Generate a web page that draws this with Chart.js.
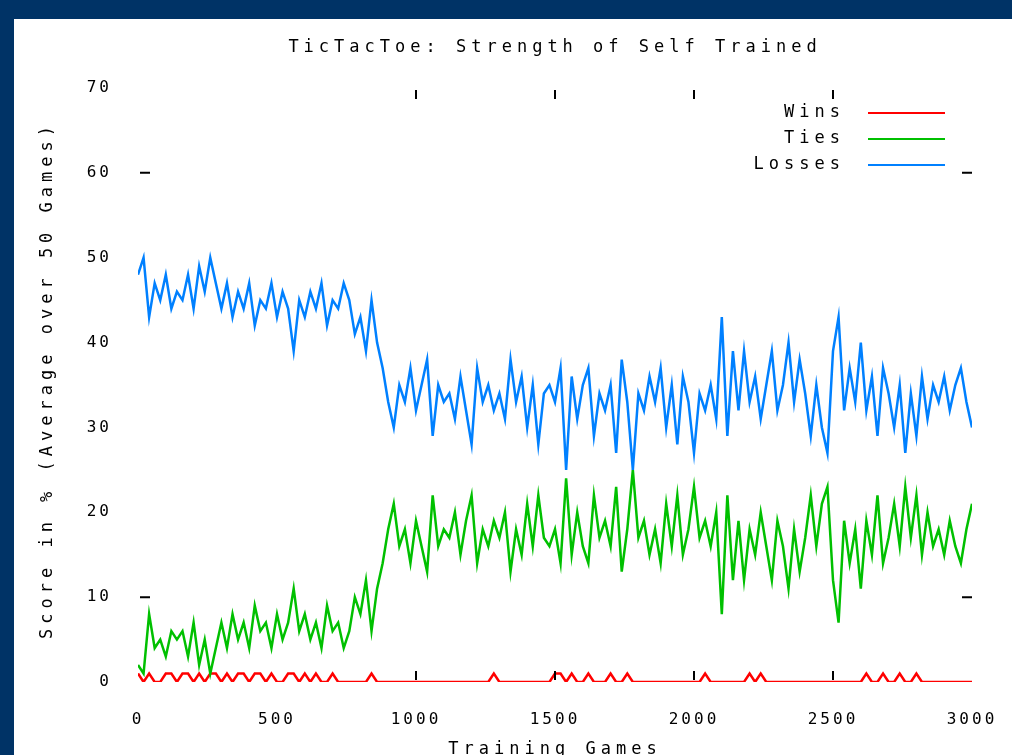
<!DOCTYPE html>
<html>
<head>
<meta charset="utf-8">
<script src="https://cdn.jsdelivr.net/npm/chart.js@4/dist/chart.umd.min.js"></script>
<style>
  html, body { margin: 0; padding: 0; background: #003366; overflow: hidden; }
  #box { position: absolute; left: 14px; top: 19px; width: 998px; height: 736px; background: #fff; }
</style>
</head>
<body>
<div id="box"><canvas id="c"></canvas></div>
<script>
// training games, one point every 20 games
const games = [];
for (let g = 0; g <= 3000; g += 20) games.push(g);

const chartTitle = 'TicTacToe: Strength of Self Trained';
const xTitle = 'Training Games';
const yTitle = 'Score in % (Average over 50 Games)';

const wins = [
  1,0,1,0,0,1,1,0,1,1, 0,1,0,1,1,0,1,0,1,1, 0,1,1,0,1,0,0,1,1,0, 1,0,1,0,0,1,0,0,0,0,
  0,0,1,0,0,0,0,0,0,0, 0,0,0,0,0,0,0,0,0,0, 0,0,0,0,1,0,0,0,0,0, 0,0,0,0,0,1,1,0,1,0,
  0,1,0,0,0,1,0,0,1,0, 0,0,0,0,0,0,0,0,0,0, 0,0,1,0,0,0,0,0,0,0, 1,0,1,0,0,0,0,0,0,0,
  0,0,0,0,0,0,0,0,0,0, 0,1,0,0,1,0,0,1,0,0, 1,0,0,0,0,0,0,0,0,0, 0
];

const ties = [
  2,1,8,4,5,3,6,5,6,3, 7,2,5,1,4,7,4,8,5,7, 4,9,6,7,4,8,5,7,11,6, 8,5,7,4,9,6,7,4,6,10,
  8,12,6,11,14,18,21,16,18,14, 19,16,13,22,16,18,17,20,15,19, 22,14,18,16,19,17,20,13,18,15,
  21,16,22,17,16,18,14,24,15,20, 16,14,22,17,19,16,23,13,18,25, 17,19,15,18,14,21,16,22,15,18,
  23,17,19,16,20,8,22,12,19,12, 18,15,20,16,12,19,16,11,18,13, 17,22,16,21,23,12,7,19,14,18,
  11,19,15,22,14,17,21,16,23,17, 22,15,20,16,18,15,19,16,14,18, 21
];

const losses = [
  48,50,43,47,45,48,44,46,45,48, 44,49,46,50,47,44,47,43,46,44, 47,42,45,44,47,43,46,44,39,45,
  43,46,44,47,42,45,44,47,45,41, 43,39,45,40,37,33,30,35,33,37, 32,35,38,29,35,33,34,31,36,32,
  28,37,33,35,32,34,31,38,33,36, 30,35,28,34,35,33,37,25,36,31, 35,37,29,34,32,35,27,38,33,25,
  34,32,36,33,37,30,35,28,36,33, 27,34,32,35,31,43,29,39,32,39, 33,36,31,35,39,32,35,40,33,38,
  34,29,35,30,27,39,43,32,37,33, 40,32,36,29,37,34,30,35,27,34, 29,36,31,35,33,36,32,35,37,33,
  30
];

// tick marks that show up inside the frame
const xMarks = [1000, 1500, 2000, 2500];
const yMarks = [10, 60];

const FONT = '"DejaVu Sans Mono", monospace';

const pts = arr => arr.map((v, i) => ({ x: games[i], y: v }));

const textPlugin = {
  id: 'gnuplotText',
  beforeDraw(chart) {
    chart.ctx.letterSpacing = '3px';
  },
  afterDraw(chart) {
    const ctx = chart.ctx;
    const a = chart.chartArea;
    const xs = chart.scales.x, ys = chart.scales.y;
    ctx.save();
    ctx.fillStyle = '#000';
    ctx.letterSpacing = '5px';
    ctx.font = '17px ' + FONT;
    ctx.textAlign = 'center';
    ctx.textBaseline = 'middle';
    ctx.fillText(chartTitle, (a.left + a.right) / 2, 29);
    ctx.textBaseline = 'top';
    ctx.fillText(xTitle, (a.left + a.right) / 2, 722);
    ctx.save();
    ctx.translate(34, 361);
    ctx.rotate(-Math.PI / 2);
    ctx.textBaseline = 'middle';
    ctx.fillText(yTitle, 0, 0);
    ctx.restore();

    // legend, gnuplot style: text then line sample
    const ds = chart.data.datasets;
    ctx.textAlign = 'right';
    ctx.textBaseline = 'middle';
    ds.forEach((d, i) => {
      const y = 94 + i * 26;
      ctx.fillText(d.label, 831, y);
      ctx.strokeStyle = d.borderColor;
      ctx.lineWidth = 2;
      ctx.beginPath();
      ctx.moveTo(854, y);
      ctx.lineTo(931, y);
      ctx.stroke();
    });

    // inward tick marks
    ctx.strokeStyle = '#000';
    ctx.lineWidth = 2;
    ctx.beginPath();
    xMarks.forEach(v => {
      const px = xs.getPixelForValue(v);
      ctx.moveTo(px, a.top + 2); ctx.lineTo(px, a.top + 11);
      ctx.moveTo(px, a.bottom - 11); ctx.lineTo(px, a.bottom - 2);
    });
    yMarks.forEach(v => {
      const py = ys.getPixelForValue(v);
      ctx.moveTo(a.left + 2, py); ctx.lineTo(a.left + 12, py);
      ctx.moveTo(a.right - 10, py); ctx.lineTo(a.right, py);
    });
    ctx.stroke();
    ctx.restore();
    ctx.letterSpacing = '0px';
  }
};

new Chart(document.getElementById('c'), {
  type: 'line',
  data: {
    datasets: [
      { label: 'Wins', data: pts(wins), borderColor: '#ff0000', order: 2 },
      { label: 'Ties', data: pts(ties), borderColor: '#00c000', order: 1 },
      { label: 'Losses', data: pts(losses), borderColor: '#0080ff', order: 0 }
    ]
  },
  options: {
    responsive: true,
    maintainAspectRatio: false,
    animation: false,
    layout: { padding: { top: 69, right: 40, bottom: 0, left: 0 } },
    elements: {
      line: { borderWidth: 2.5, tension: 0 },
      point: { radius: 0 }
    },
    scales: {
      x: {
        type: 'linear',
        min: 0,
        max: 3000,
        grid: { display: false },
        border: { display: false },
        ticks: {
          stepSize: 500, color: '#000', padding: 20, maxRotation: 0,
          font: { family: FONT, size: 16 },
          callback: v => String(v)
        },
        afterFit(s) { s.height = 73; }
      },
      y: {
        min: 0,
        max: 70,
        grid: { display: false },
        border: { display: false },
        ticks: { stepSize: 10, color: '#000', padding: 18, font: { family: FONT, size: 16 } },
        afterFit(s) { s.width = 124; }
      }
    },
    plugins: {
      legend: { display: false },
      tooltip: { enabled: false }
    }
  },
  plugins: [textPlugin]
});
</script>
</body>
</html>
